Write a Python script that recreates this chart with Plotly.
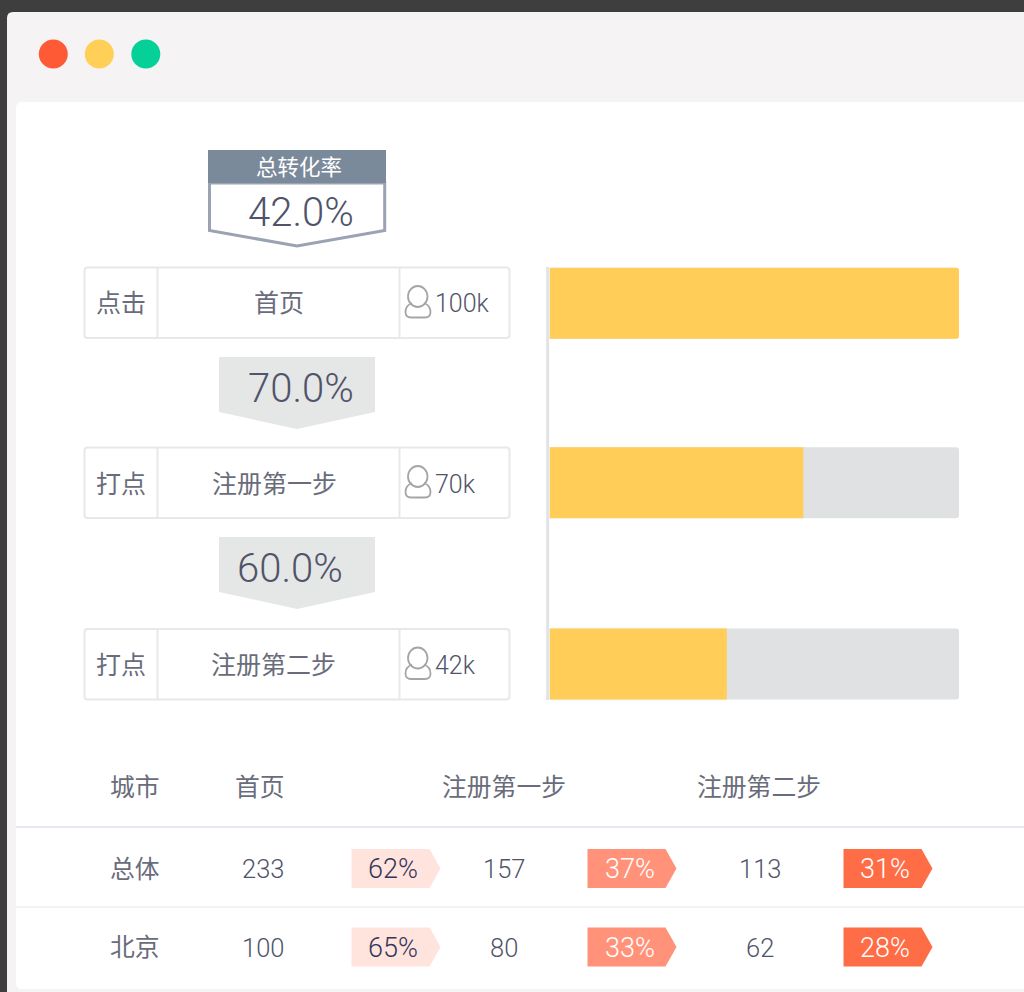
import plotly.graph_objects as go

W, H = 1024, 992

# ---- data ----
steps = ["首页", "注册第一步", "注册第二步"]
step_kinds = ["点击", "打点", "打点"]
step_counts = ["100k", "70k", "42k"]
bar_track = [100, 100, 100]
bar_fill = [100, 62, 43.3]
total_rate_label = "总转化率"
total_rate = "42.0%"
step_rates = ["70.0%", "60.0%"]

table_headers = ["城市", "首页", "注册第一步", "注册第二步"]
cities = ["总体", "北京"]
home_values = [233, 100]
step1_values = [157, 80]
step2_values = [113, 62]
rate_home = ["62%", "65%"]
rate_step1 = ["37%", "33%"]
rate_step2 = ["31%", "28%"]

# ---- colours ----
BG = "#3e3e3e"
CHROME = "#f5f3f4"
TEXT = "#696c7b"
DIGITS = "#50546a"
CARD = "#e8e8e8"
YELLOW = "#ffcd58"
TRACK = "#e0e1e3"
SANS = "Roboto, 'Noto Sans CJK SC', sans-serif"


def X(p):
    return p / W


def Y(p):
    return 1 - p / H


def poly(points, fill, line=None, lw=0, layer="below", closed=True):
    d = "M " + " L ".join(f"{X(x):.5f} {Y(y):.5f}" for x, y in points)
    if closed:
        d += " Z"
    return dict(type="path", xref="paper", yref="paper", path=d, fillcolor=fill,
                line=dict(color=line or "rgba(0,0,0,0)", width=lw), layer=layer)


def round_rect(x0, y0, x1, y1, r, fill, line=None, lw=0):
    p = lambda x, y: f"{X(x):.5f} {Y(y):.5f}"
    d = (f"M {p(x0 + r, y0)} L {p(x1 - r, y0)} Q {p(x1, y0)} {p(x1, y0 + r)} "
         f"L {p(x1, y1 - r)} Q {p(x1, y1)} {p(x1 - r, y1)} L {p(x0 + r, y1)} "
         f"Q {p(x0, y1)} {p(x0, y1 - r)} L {p(x0, y0 + r)} Q {p(x0, y0)} {p(x0 + r, y0)} Z")
    return dict(type="path", xref="paper", yref="paper", path=d, fillcolor=fill,
                line=dict(color=line or "rgba(0,0,0,0)", width=lw), layer="below")


def circle(x0, y0, x1, y1, fill, line=None, lw=0):
    return dict(type="circle", xref="paper", yref="paper", x0=X(x0), x1=X(x1), y0=Y(y0), y1=Y(y1),
                fillcolor=fill, line=dict(color=line or "rgba(0,0,0,0)", width=lw), layer="below")


def hline(x0, x1, y, color, lw):
    return dict(type="line", xref="paper", yref="paper", x0=X(x0), x1=X(x1), y0=Y(y), y1=Y(y),
                line=dict(color=color, width=lw), layer="below")


def vline(x, y0, y1, color, lw):
    return dict(type="line", xref="paper", yref="paper", x0=X(x), x1=X(x), y0=Y(y0), y1=Y(y1),
                line=dict(color=color, width=lw), layer="below")


def label(text, x, y, size, color=TEXT, anchor="center", weight=300):
    return dict(text=text, x=X(x), y=Y(y), xref="paper", yref="paper", showarrow=False,
                xanchor=anchor, yanchor="middle", borderpad=0, borderwidth=0,
                font=dict(family=SANS, size=size, color=color, weight=weight))


shapes = []
notes = []

# window chrome
shapes.append(round_rect(7, 12, 1060, 1040, 6, CHROME))
shapes.append(round_rect(16, 102, 1060, 989, 6, "#ffffff"))
for x, c in zip((53.3, 99.3, 145.8), ("#ff5a36", "#ffcf57", "#04d098")):
    shapes.append(circle(x - 14.5, 39.5, x + 14.5, 68.5, c))

# total badge
shapes.append(poly([(209.5, 183), (209.5, 230.5), (297, 246), (384.7, 230.5), (384.7, 183)],
                   "#ffffff", "#9ba3b3", 3))
shapes.append(poly([(208, 150), (386, 150), (386, 183), (208, 183)], "#7b8a9b"))
notes.append(label(total_rate_label, 299, 168, 21.5, "#ffffff", weight=400))
notes.append(label(total_rate, 301, 212, 40, DIGITS))

# step cards
card_tops = [267.5, 447.5, 629]
card_h = 70.5
mid_centers = [279, 274.5, 273.5]
for top, kind, step, count, mc in zip(card_tops, step_kinds, steps, step_counts, mid_centers):
    bot = top + card_h
    mid = top + 36.5
    shapes.append(round_rect(84.5, top, 509.5, bot, 3, "#ffffff", CARD, 2))
    shapes.append(vline(157.5, top, bot, CARD, 2))
    shapes.append(vline(399.5, top, bot, CARD, 2))
    notes.append(label(kind, 121, mid, 25, weight=400))
    notes.append(label(step, mc, mid, 25, weight=400))
    notes.append(label(count, 435, mid, 25, DIGITS, anchor="left"))
    # person icon
    dy = top - 267.5
    shapes.append(circle(408, 286 + dy, 427.5, 307 + dy, "#ffffff", "#a5a5a5", 1.8))
    p = lambda x, y: f"{X(x):.5f} {Y(y + dy):.5f}"
    body = (f"M {p(412, 303)} Q {p(405.5, 305.5)} {p(405.5, 312)} Q {p(405.5, 317.5)} {p(411, 317.5)} "
            f"L {p(425, 317.5)} Q {p(430.5, 317.5)} {p(430.5, 312)} Q {p(430.5, 305.5)} {p(424, 303)}")
    shapes.append(dict(type="path", xref="paper", yref="paper", path=body, layer="below",
                       fillcolor="rgba(0,0,0,0)", line=dict(color="#a5a5a5", width=1.8)))

# step conversion arrows
for top, rate, tx in zip((357, 537), step_rates, (300.5, 290)):
    shapes.append(poly([(219, top), (375, top), (375, top + 55), (297, top + 72), (219, top + 55)], "#e5e6e6"))
    notes.append(label(rate, tx, top + 31, 40, DIGITS))

# bar baseline
shapes.append(vline(547.7, 267, 700, "#e2e3e6", 3))

# table
for text, x in zip(table_headers, (134.5, 259.5, 503.5, 759)):
    notes.append(label(text, x, 787.5, 24.8, weight=400))
shapes.append(hline(16, 1024, 827, "#e3e8f3", 2))
shapes.append(hline(16, 1024, 907, "#f3f3f5", 2))

TAGS = [(351.5, "#ffe3dd", "#34355a", 392.5), (587.5, "#ff9279", "#ffffff", 630), (843.5, "#ff6d47", "#ffffff", 885)]
rows = zip((868.5, 947), cities, home_values, step1_values, step2_values, rate_home, rate_step1, rate_step2)
for y, city, hv, s1, s2, r0, r1, r2 in rows:
    ty = y + 0.5
    notes.append(label(city, 134.5, ty, 24.8, weight=400))
    notes.append(label(str(hv), 263, ty, 25.5, DIGITS))
    notes.append(label(str(s1), 504, ty, 25.5, DIGITS))
    notes.append(label(str(s2), 759.5, ty, 25.5, DIGITS))
    for (x0, fill, color, tx), rate in zip(TAGS, (r0, r1, r2)):
        shapes.append(poly([(x0, y - 19.5), (x0 + 78, y - 19.5), (x0 + 89, y),
                            (x0 + 78, y + 19.5), (x0, y + 19.5)], fill))
        notes.append(label(rate, tx, ty, 27, color))

# bars through real axes
slot = 180.4
bar_w = 71 / slot
bar_offset = [-bar_w / 2, -bar_w / 2 - 0.005, -bar_w / 2]
fig = go.Figure()
fig.add_bar(y=steps, x=bar_track, orientation="h", width=bar_w, offset=bar_offset,
            marker=dict(color=TRACK, cornerradius=3, line_width=0), hoverinfo="skip", showlegend=False)
fig.add_bar(y=steps, x=bar_fill, orientation="h", width=bar_w, offset=bar_offset,
            marker=dict(color=YELLOW, cornerradius=3, line_width=0), hoverinfo="skip", showlegend=False)

top_px = 303.3 - slot / 2
bot_px = top_px + 3 * slot
fig.update_layout(
    width=W, height=H, margin=dict(l=0, r=0, t=0, b=0, pad=0),
    paper_bgcolor=BG, plot_bgcolor="rgba(0,0,0,0)",
    barmode="overlay", showlegend=False,
    font=dict(family=SANS),
    xaxis=dict(domain=[549.5 / W, 959 / W], range=[0, 100], visible=False, fixedrange=True),
    yaxis=dict(domain=[1 - bot_px / H, 1 - top_px / H], categoryorder="array", categoryarray=steps,
               autorange="reversed", visible=False, fixedrange=True),
    shapes=shapes, annotations=notes,
)
fig.write_html("out.html", config={"displayModeBar": False},
               post_script="document.body.style.margin='0';document.documentElement.style.background='#3e3e3e';")
